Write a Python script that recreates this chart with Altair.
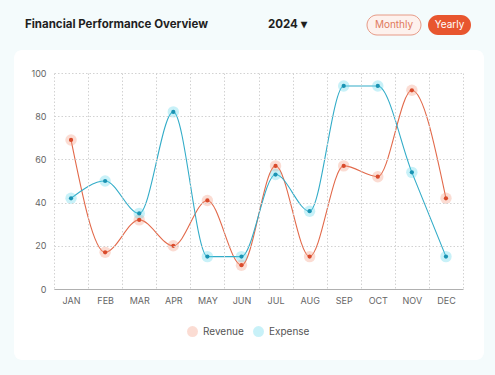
import altair as alt
import pandas as pd

months = ["JAN", "FEB", "MAR", "APR", "MAY", "JUN", "JUL", "AUG", "SEP", "OCT", "NOV", "DEC"]
revenue = [69, 17, 32, 20, 41, 11, 57, 15, 57, 52, 92, 42]
expense = [42, 50, 35, 82, 15, 15, 53, 36, 94, 94, 54, 15]
series = ["Revenue", "Expense"]
y_ticks = [0, 20, 40, 60, 80, 100]

rows = []
for name, vals in zip(series, [revenue, expense]):
    for i, (m, v) in enumerate(zip(months, vals)):
        rows.append({"idx": i, "month": m, "series": name, "value": v})
df = pd.DataFrame(rows)

W, H = 409, 216
band = W / len(months)
label_arr = "[" + ",".join("'" + m + "'" for m in months) + "]"

x_enc = alt.X(
    "idx:Q",
    scale=alt.Scale(domain=[-0.5, len(months) - 0.5], nice=False, zero=False),
    axis=alt.Axis(
        values=[i - 0.5 for i in range(len(months) + 1)],
        labelExpr=f"{label_arr}[round(datum.value + 0.5)] || ''",
        labelOffset=band / 2,
        grid=True, gridDash=[1.5, 2], gridColor="#d2d2d2",
        ticks=False, domainColor="#b0b0b0", domainWidth=1.2,
        labelColor="#666666", labelFontSize=9, labelPadding=7,
        labelOverlap=False, labelFlush=False, title=None, zindex=1,
    ),
)
y_enc = alt.Y(
    "value:Q",
    scale=alt.Scale(domain=[0, 100], nice=False),
    axis=alt.Axis(
        values=y_ticks, grid=True, gridDash=[1.5, 2], gridColor="#d2d2d2",
        domain=False, ticks=False, labelColor="#666666", labelFontSize=9,
        labelPadding=8, title=None, zindex=1,
    ),
)

line_colors = alt.Scale(domain=series, range=["#e2694a", "#32acc8"])
halo_colors = alt.Scale(domain=series, range=["#f39a80", "#62d6ec"])
dot_colors = alt.Scale(domain=series, range=["#d94a2b", "#1a93b3"])

base = alt.Chart(df)

lines = base.mark_line(interpolate="monotone", strokeWidth=1.1).encode(
    x=x_enc, y=y_enc, color=alt.Color("series:N", scale=line_colors, legend=None)
)
halos = base.mark_circle(size=130, opacity=0.35).encode(
    x=x_enc, y=y_enc,
    color=alt.Color("series:N", scale=halo_colors, sort=series,
                    legend=alt.Legend(orient="none", legendX=132, legendY=252,
                                      direction="horizontal", title=None,
                                      labelFontSize=10, labelColor="#555555",
                                      symbolType="circle", symbolSize=120,
                                      columnPadding=8)),
)
dots = base.mark_circle(size=18, opacity=1).encode(
    x=x_enc, y=y_enc, color=alt.Color("series:N", scale=dot_colors, legend=None)
)

one = alt.Data(values=[{"a": 1}])

card = alt.Chart(one).mark_rect(color="#ffffff", cornerRadius=8).encode(
    x=alt.value(-40), x2=alt.value(430), y=alt.value(-23), y2=alt.value(287)
)
title_txt = alt.Chart(one).mark_text(
    text="Financial Performance Overview", align="left", baseline="middle",
    fontSize=11.5, fontWeight="bold", color="#1f1f1f", font="Inter",
).encode(x=alt.value(-29), y=alt.value(-48))
year_txt = alt.Chart(one).mark_text(
    text="2024  ▾", align="left", baseline="middle",
    fontSize=11.5, fontWeight="bold", color="#1f1f1f", font="Inter",
).encode(x=alt.value(214), y=alt.value(-48))
btn1 = alt.Chart(one).mark_rect(
    color="#fdf1ed", stroke="#e79a86", strokeWidth=1, cornerRadius=10
).encode(x=alt.value(313), x2=alt.value(367), y=alt.value(-58), y2=alt.value(-38))
btn1_txt = alt.Chart(one).mark_text(
    text="Monthly", align="center", baseline="middle", fontSize=10,
    color="#e07a5c", font="Inter",
).encode(x=alt.value(340), y=alt.value(-48))
btn2 = alt.Chart(one).mark_rect(color="#e8562f", cornerRadius=10).encode(
    x=alt.value(374), x2=alt.value(417), y=alt.value(-58), y2=alt.value(-38)
)
btn2_txt = alt.Chart(one).mark_text(
    text="Yearly", align="center", baseline="middle", fontSize=10,
    color="#ffffff", font="Inter",
).encode(x=alt.value(395.5), y=alt.value(-48))

chart = alt.layer(
    card, lines, halos, dots, title_txt, year_txt, btn1, btn1_txt, btn2, btn2_txt
).resolve_scale(color="independent").properties(
    width=W, height=H,
    background="#f4fbfc",
    padding={"left": 54, "top": 73, "right": 32, "bottom": 86},
    autosize=alt.AutoSizeParams(type="none"),
).configure_view(stroke=None).configure(font="Inter")

chart.save("out.html", embed_options={"renderer": "svg", "actions": False})
